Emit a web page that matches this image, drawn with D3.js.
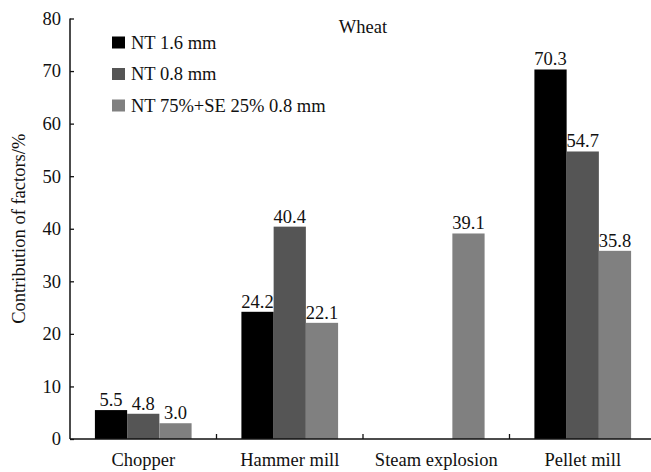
<!DOCTYPE html>
<html>
<head>
<meta charset="utf-8">
<script src="https://cdn.jsdelivr.net/npm/d3@7"></script>
<style>
  html, body { margin: 0; padding: 0; background: #fff; }
  svg { display: block; }
  text { font-family: "Liberation Serif", "Times New Roman", serif; fill: #111; }
</style>
</head>
<body>
<svg id="chart" width="651" height="472"></svg>
<script>
// Machine categories along the x axis
const categories = ["Chopper", "Hammer mill", "Steam explosion", "Pellet mill"];
// Series (legend entries)
const seriesNames = ["NT 1.6 mm", "NT 0.8 mm", "NT 75%+SE 25% 0.8 mm"];
const seriesColors = ["#000000", "#555555", "#808080"];
// Contribution values per series, one per category (null = no bar)
const nt16 = [5.5, 24.2, null, 70.3];
const nt08 = [4.8, 40.4, null, 54.7];
const ntSe08 = [3.0, 22.1, 39.1, 35.8];
const yTicks = [0, 10, 20, 30, 40, 50, 60, 70, 80];

const seriesValues = [nt16, nt08, ntSe08];
const fontSize = 18.5;

const svg = d3.select("#chart");
const plotLeft = 70, plotRight = 656, plotTop = 18.5, plotBottom = 439;

const x = d3.scaleBand().domain(categories).range([plotLeft, plotRight])
  .paddingInner(0.34).paddingOuter(0.17);
const xs = d3.scaleBand().domain(d3.range(seriesNames.length))
  .range([0, x.bandwidth()]);
const y = d3.scaleLinear().domain([0, 80]).range([plotBottom, plotTop]);

// Bars with value labels
seriesValues.forEach((vals, si) => {
  const data = categories.map((c, i) => ({ c, v: vals[i] })).filter(d => d.v != null);
  svg.append("g").selectAll("rect").data(data).join("rect")
    .attr("x", d => x(d.c) + xs(si))
    .attr("y", d => y(d.v))
    .attr("width", xs.bandwidth())
    .attr("height", d => y(0) - y(d.v))
    .attr("fill", seriesColors[si]);
  svg.append("g").selectAll("text").data(data).join("text")
    .attr("x", d => x(d.c) + xs(si) + xs.bandwidth() / 2)
    .attr("y", d => y(d.v) - 4)
    .attr("text-anchor", "middle")
    .attr("font-size", fontSize)
    .text(d => d.v.toFixed(1));
});

// Y axis with inward ticks
const yAxis = svg.append("g").attr("transform", `translate(${plotLeft},0)`)
  .call(d3.axisLeft(y).tickValues(yTicks).tickSize(-4).tickPadding(9));
yAxis.select(".domain").attr("stroke", "#111").attr("stroke-width", 1.5)
  .attr("d", `M0,${plotTop}H0V${plotBottom}`);
yAxis.selectAll(".tick line").attr("stroke", "#111").attr("stroke-width", 1.3);
yAxis.selectAll(".tick text").attr("font-size", fontSize)
  .attr("font-family", "Liberation Serif, serif").attr("fill", "#111");

// X axis: baseline with inward ticks at category boundaries
svg.append("line").attr("x1", plotLeft).attr("x2", 651)
  .attr("y1", plotBottom).attr("y2", plotBottom)
  .attr("stroke", "#111").attr("stroke-width", 1.5);
const boundaries = categories.slice(1).map(c => x(c) - x.step() * x.paddingInner() / 2);
svg.append("g").selectAll("line").data(boundaries).join("line")
  .attr("x1", d => d).attr("x2", d => d)
  .attr("y1", plotBottom).attr("y2", plotBottom - 5)
  .attr("stroke", "#111").attr("stroke-width", 1.3);
svg.append("g").selectAll("text").data(categories).join("text")
  .attr("x", d => x(d) + x.bandwidth() / 2)
  .attr("y", 466)
  .attr("text-anchor", "middle")
  .attr("font-size", fontSize)
  .text(d => d);

// Axis title
svg.append("text")
  .attr("transform", `translate(25,${(plotTop + plotBottom) / 2}) rotate(-90)`)
  .attr("text-anchor", "middle")
  .attr("font-size", fontSize)
  .text("Contribution of factors/%");

// Chart label
svg.append("text").attr("x", 363).attr("y", 33)
  .attr("text-anchor", "middle").attr("font-size", fontSize).text("Wheat");

// Legend
const legend = svg.append("g").selectAll("g").data(seriesNames).join("g")
  .attr("transform", (d, i) => `translate(112,${42.5 + i * 31.5})`);
legend.append("rect").attr("x", 0).attr("y", -6).attr("width", 13).attr("height", 12)
  .attr("fill", (d, i) => seriesColors[i]);
legend.append("text").attr("x", 19).attr("y", 6).attr("font-size", fontSize).text(d => d);
</script>
</body>
</html>
